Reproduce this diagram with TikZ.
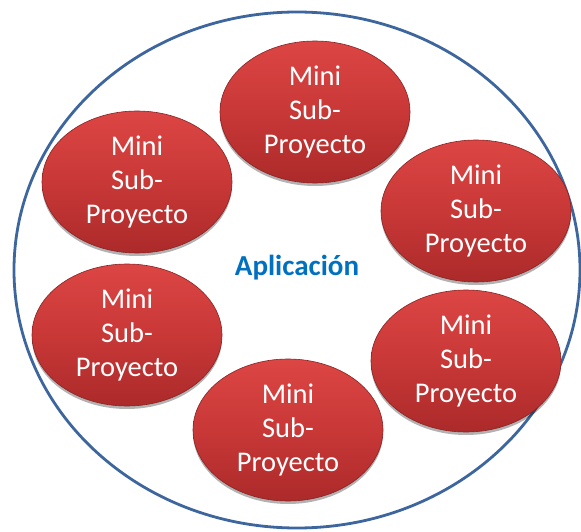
\documentclass[tikz,border=0pt]{standalone}
\usepackage{fontspec}
\setmainfont{Carlito}
\usetikzlibrary{shapes.geometric,shadows}
\definecolor{rimblue}{RGB}{62,102,158}
\definecolor{redlight}{RGB}{220,70,68}
\definecolor{redmid}{RGB}{200,56,55}
\definecolor{reddark}{RGB}{172,42,42}
\definecolor{apblue}{RGB}{0,112,192}
\tikzset{
  sub/.style={ellipse, minimum width=190pt, minimum height=142pt, inner sep=0pt,
    top color=redlight, bottom color=reddark, middle color=redmid,
    draw=reddark!80!black, line width=0.6pt,
    drop shadow={shadow xshift=0pt, shadow yshift=-3pt, opacity=0.3, fill=black},
    text=white, align=center, font=\fontsize{28.5}{34}\selectfont},
  app/.style={text=apblue, font=\bfseries\fontsize{29}{32}\selectfont}
}
\begin{document}
\begin{tikzpicture}[x=1pt,y=-1pt]
\useasboundingbox (0,0) rectangle (581,532);
\fill[white] (0,0) rectangle (581,532);
% the application boundary
\draw[rimblue, line width=2.8pt] (297,270) ellipse [x radius=283, y radius=258];
\node[app] (app) at (297,268) {Aplicación};
% the six mini sub-projects
\node[sub] (p1) at (315,112) {Mini\\Sub-\\Proyecto};
\node[sub] (p2) at (137,182) {Mini\\Sub-\\Proyecto};
\node[sub] (p3) at (476,211) {Mini\\Sub-\\Proyecto};
\node[sub] (p4) at (127,335) {Mini\\Sub-\\Proyecto};
\node[sub] (p5) at (466,361) {Mini\\Sub-\\Proyecto};
\node[sub] (p6) at (288,430) {Mini\\Sub-\\Proyecto};
\end{tikzpicture}
\end{document}
